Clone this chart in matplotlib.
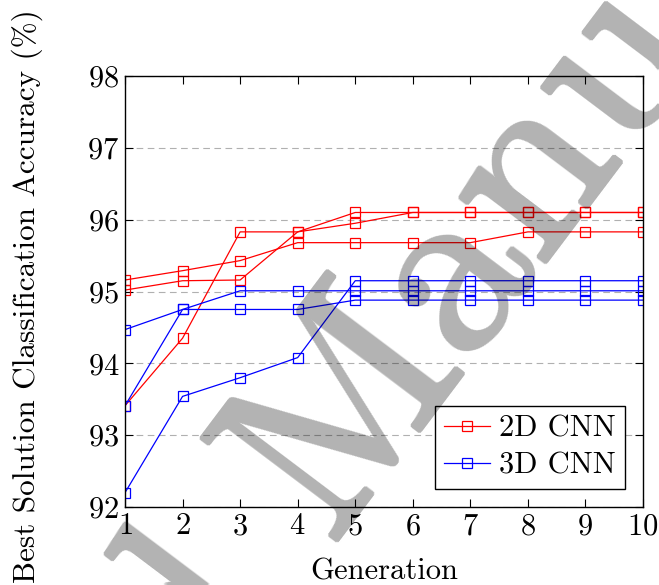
import numpy as np
import matplotlib
matplotlib.use('Agg')
import matplotlib.pyplot as plt

plt.rcParams['font.family'] = 'serif'
plt.rcParams['font.serif'] = ['cmr10', 'DejaVu Serif']
plt.rcParams['mathtext.fontset'] = 'cm'
plt.rcParams['axes.formatter.use_mathtext'] = True

generation = list(range(1, 11))

# 2D CNN runs
cnn2d_run1 = [95.16, 95.29, 95.43, 95.68, 95.68, 95.68, 95.68, 95.83, 95.83, 95.83]
cnn2d_run2 = [95.02, 95.15, 95.16, 95.83, 96.10, 96.10, 96.10, 96.10, 96.10, 96.10]
cnn2d_run3 = [93.41, 94.35, 95.83, 95.83, 95.95, 96.10, 96.10, 96.10, 96.10, 96.10]

# 3D CNN runs
cnn3d_run1 = [94.47, 94.75, 95.01, 95.01, 95.01, 95.01, 95.01, 95.01, 95.01, 95.01]
cnn3d_run2 = [93.41, 94.75, 94.75, 94.75, 94.88, 94.88, 94.88, 94.88, 94.88, 94.88]
cnn3d_run3 = [92.20, 93.54, 93.80, 94.08, 95.15, 95.15, 95.15, 95.15, 95.15, 95.15]

y_ticks = [92, 93, 94, 95, 96, 97, 98]


def thicken(img, dpi, r=2):
    # dilate the watermark glyphs a little and make them translucent
    a = np.pad(img[:, :, 3], r)
    h, w = a.shape
    out = np.zeros_like(a)
    for dy in range(-r, r + 1):
        for dx in range(-r, r + 1):
            if dx * dx + dy * dy <= r * r + 1:
                out[max(dy, 0):h + min(dy, 0), max(dx, 0):w + min(dx, 0)] = np.maximum(
                    out[max(dy, 0):h + min(dy, 0), max(dx, 0):w + min(dx, 0)],
                    a[max(-dy, 0):h + min(-dy, 0), max(-dx, 0):w + min(-dx, 0)])
    res = np.zeros((h, w, 4))
    res[..., 3] = out * 0.3
    return res, -r, -r


fig = plt.figure(figsize=(6.59, 5.85), dpi=100)
ax = fig.add_axes([0.1897, 0.1333, 0.786, 0.7368])

style = dict(marker='s', markersize=7.5, markerfacecolor='none', linewidth=0.9, markeredgewidth=0.9)
for i, run in enumerate([cnn2d_run1, cnn2d_run2, cnn2d_run3]):
    ax.plot(generation, run, color='#ff0000', label='2D CNN' if i == 0 else None, **style)
for i, run in enumerate([cnn3d_run1, cnn3d_run2, cnn3d_run3]):
    ax.plot(generation, run, color='#0000ff', label='3D CNN' if i == 0 else None, **style)

ax.set_xlim(1, 10)
ax.set_ylim(92, 98)
ax.set_xticks(generation)
ax.set_yticks(y_ticks)
ax.yaxis.grid(True, linestyle=(0, (6, 4)), color='#b0b0b0', linewidth=0.8)
ax.set_axisbelow(True)
ax.tick_params(direction='in', top=True, right=True, length=6, width=0.8,
               labelsize=22, pad=4)
for s in ax.spines.values():
    s.set_linewidth(1.0)

ax.set_xlabel('Generation', fontsize=22, labelpad=13)
ax.set_ylabel('Best Solution Classification Accuracy (%)', fontsize=22.5)
ax.yaxis.set_label_coords(-0.158, 0.49)

leg = ax.legend(loc='lower right', fontsize=22, fancybox=False, edgecolor='black',
                framealpha=1, handlelength=1.5, handletextpad=0.3, borderpad=0.3,
                labelspacing=0.3, borderaxespad=0.6)
leg.get_frame().set_linewidth(1.0)

# watermark
wm = dict(transform=fig.transFigure, fontsize=178, rotation=53, rotation_mode='anchor',
          va='baseline', color='black', zorder=10)
t1 = fig.text(0.498, 0.077, 'Accepted ', ha='right', **wm)
t2 = fig.text(0.498, 0.077, 'Manuscript', ha='left', **wm)
t1.set_agg_filter(thicken)
t2.set_agg_filter(thicken)

fig.savefig('out.png', dpi=100)
